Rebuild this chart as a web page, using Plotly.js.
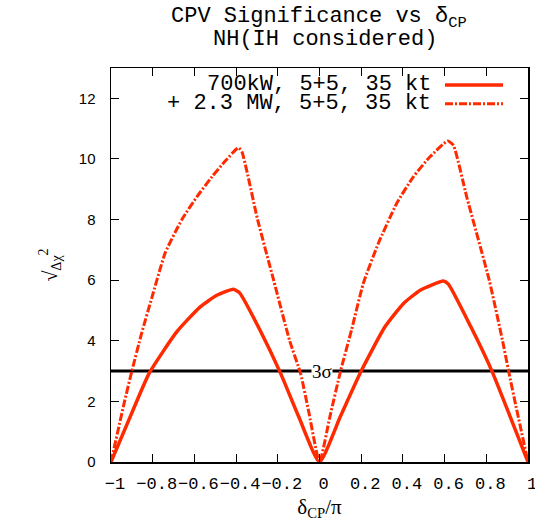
<!DOCTYPE html>
<html>
<head>
<meta charset="utf-8">
<script src="https://cdn.plot.ly/plotly-3.0.1.min.js"></script>
<style>html,body{margin:0;padding:0;background:#fff;}#chart{width:535px;height:524px;}</style>
</head>
<body>
<div id="chart"></div>
<script>
// δCP/π values and sqrt(Δχ²) for each configuration
const deltaSolid = [-1, -0.9, -0.816, -0.684, -0.572, -0.492, -0.413, -0.383, -0.284, -0.1875, -0.1, 0,
                    0.1, 0.2, 0.314, 0.403, 0.483, 0.594, 0.618, 0.726, 0.827, 0.92, 1];
const chiSolid   = [0, 1.62, 2.94, 4.3, 5.12, 5.5, 5.70, 5.58, 4.33, 2.94, 1.5, 0,
                    1.5, 3.0, 4.46, 5.23, 5.67, 5.97, 5.87, 4.46, 3.0, 1.4, 0];
const deltaDash  = [-1, -0.935, -0.9, -0.853, -0.805, -0.74, -0.66, -0.588, -0.516, -0.452, -0.389, -0.372, -0.297, -0.22, -0.143, -0.09, -0.05, 0,
                    0.05, 0.101, 0.154, 0.21, 0.282, 0.37, 0.45, 0.53, 0.615, 0.642, 0.706, 0.814, 0.878, 0.907, 0.942, 1];
const chiDash    = [0, 2, 3, 4.25, 5.4, 6.9, 8, 8.75, 9.41, 9.93, 10.37, 10.23, 8, 6, 4, 2.9, 1.6, 0,
                    1.5, 3, 4.37, 5.89, 7.21, 8.53, 9.41, 10.07, 10.59, 10.45, 8.75, 6, 4, 3, 1.85, 0];
const sigmaX = [-1, 1];
const sigmaY = [3, 3];
const seriesNames = ["700kW, 5+5, 35 kt", "+ 2.3 MW, 5+5, 35 kt"];
const xTicks = [-1, -0.8, -0.6, -0.4, -0.2, 0, 0.2, 0.4, 0.6, 0.8, 1];
const yTicks = [0, 2, 4, 6, 8, 10, 12];

const RED = "#ff2a00";
const MONO = "Liberation Mono, Courier New, monospace";
const SERIF = "Liberation Serif, Times New Roman, serif";
const SANS = "Liberation Sans, Arial, sans-serif";

const traces = [
  {x: sigmaX, y: sigmaY, mode: "lines", line: {color: "#000", width: 3}, showlegend: false, hoverinfo: "skip"},
  {x: deltaSolid, y: chiSolid, mode: "lines", name: seriesNames[0], line: {color: RED, width: 3.5, shape: "spline", smoothing: 0.5}, showlegend: false},
  {x: deltaDash, y: chiDash, mode: "lines", name: seriesNames[1], line: {color: RED, width: 3, dash: "8px,2px,2px,2px", shape: "spline", smoothing: 0.5}, showlegend: false}
];

const layout = {
  width: 535, height: 524,
  margin: {l: 111, r: 7, t: 68, b: 62},
  paper_bgcolor: "#fff", plot_bgcolor: "#fff",
  title: {text: "CPV Significance vs δ<sub>CP</sub>", font: {family: MONO, size: 22, color: "#000"},
          x: 0.596, xanchor: "center", y: 0.972, yanchor: "middle"},
  xaxis: {
    range: [-1, 1], tickvals: xTicks, ticktext: xTicks.map(v => String(v).replace("-", "−")),
    tickangle: 0, ticklabelshift: 4, ticklabelstandoff: 5, ticklabeloverflow: "allow",
    ticks: "inside", ticklen: 8, tickwidth: 1, tickcolor: "#000",
    showline: true, linecolor: "#000", linewidth: 1.5, mirror: "ticks",
    showgrid: false, zeroline: false,
    tickfont: {family: MONO, size: 17, color: "#000"},
    title: {text: "δ<sub>CP</sub>/π", font: {family: SERIF, size: 21, color: "#000"}, standoff: 6}
  },
  yaxis: {
    range: [0, 13], tickvals: yTicks, ticklabelstandoff: 11, ticksuffix: "\u00a0",
    ticks: "inside", ticklen: 8, tickwidth: 1, tickcolor: "#000",
    showline: true, linecolor: "#000", linewidth: 1.5, mirror: "ticks",
    showgrid: false, zeroline: false,
    tickfont: {family: SANS, size: 15, color: "#000"},
    title: {text: "√<sub>Δχ</sub><sup>2</sup>", font: {family: SERIF, size: 20, color: "#000"}, standoff: 16}
  },
  annotations: [
    {text: "NH(IH considered)", xref: "paper", yref: "paper", x: 0.513, y: 1.073, xanchor: "center", yanchor: "middle",
     showarrow: false, font: {family: MONO, size: 22, color: "#000"}},
    {text: seriesNames[0], xref: "paper", yref: "paper", x: 0.772, y: 0.957, xanchor: "right", yanchor: "middle",
     showarrow: false, font: {family: MONO, size: 22, color: "#000"}},
    {text: seriesNames[1], xref: "paper", yref: "paper", x: 0.772, y: 0.909, xanchor: "right", yanchor: "middle",
     showarrow: false, font: {family: MONO, size: 22, color: "#000"}},
    {text: "3σ", xref: "x", yref: "y", x: 0.012, y: 3, xanchor: "center", yanchor: "middle",
     showarrow: false, bgcolor: "#fff", borderpad: 0, font: {family: SERIF, size: 19, color: "#000"}}
  ],
  shapes: [
    {type: "line", xref: "paper", yref: "paper", x0: 0.801, x1: 0.940, y0: 0.957, y1: 0.957, line: {color: RED, width: 3.5}},
    {type: "line", xref: "paper", yref: "paper", x0: 0.801, x1: 0.940, y0: 0.909, y1: 0.909, line: {color: RED, width: 3, dash: "8px,2px,2px,2px"}}
  ]
};

Plotly.newPlot("chart", traces, layout, {displayModeBar: false, staticPlot: true});
</script>
</body>
</html>
